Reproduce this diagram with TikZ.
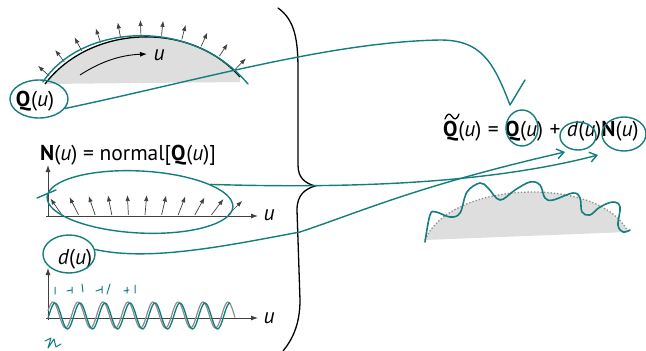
\documentclass[tikz,border=0pt]{standalone}
\usepackage{fontspec}
\setmainfont{PT Sans}
\usetikzlibrary{arrows.meta,decorations.markings,shapes.geometric}
\definecolor{ink}{RGB}{20,125,125}
\definecolor{fillgray}{RGB}{222,222,222}
\newcommand{\fsp}{\hspace{0.3em}}
\tikzset{
  teal line/.style={draw=ink,line width=1.4pt,line cap=round,line join=round},
  tealring/.style={draw=ink,line width=1.4pt,ellipse,inner sep=0pt},
  axis/.style={draw=black!75,line width=0.9pt,-{Latex[length=7pt,width=5pt]}},
  normalarrow/.style={draw=black!75,line width=0.7pt,-{Latex[length=6pt,width=4.5pt]}},
  lbl/.style={font=\fontsize{21.5}{24}\selectfont,inner sep=0pt},
  handtip/.style={-{Straight Barb[length=7pt,width=10pt]}},
}
\begin{document}
\begin{tikzpicture}[x=1pt,y=-1pt]
\useasboundingbox (0,0) rectangle (646,351);
\clip (0,0) rectangle (646,351);

% ---------- top-left: curve Q(u) with normals
\fill[fillgray] (45,84) .. controls (90,25) and (190,20) .. (240,77) -- (240,82) -- cycle;
\draw[line width=1.3pt, postaction={decorate},
  decoration={markings, mark=between positions 0.04 and 0.97 step 0.092 with {\draw[normalarrow] (0pt,2pt) -- (0pt,17pt);}}]
  (45,84) .. controls (90,25) and (190,20) .. (240,77);
\draw[line width=0.9pt,-{Latex[length=7pt,width=5pt]}] (80,75) .. controls (100,62) and (120,55) .. (147,54);
\node[lbl] (utop) at (159,55) {\textit{u}};
\node[lbl] (qu) at (35,101) {\textbf{Q}(\textit{u})};

% ---------- middle-left: N(u)
\node[lbl,anchor=west] (nlabel) at (40,155) {\textbf{N}(\textit{u}) = normal[\textbf{Q}(\textit{u})]};
\draw[axis] (48,217) -- (48,165);
\draw[axis] (46,216) -- (258,216);
\node[lbl] (umid) at (269,215) {\textit{u}};
\foreach \i in {0,...,10}{
  \draw[normalarrow] (62+16.6*\i,215) -- ++({125-8*\i}:20pt);
}

% ---------- bottom-left: d(u)
\node[lbl] (dlabel) at (75,259) {\textit{d}(\textit{u})};
\draw[axis] (48,320) -- (48,268);
\draw[axis] (46,318) -- (258,318);
\node[lbl] (ubot) at (269,318) {\textit{u}};
\draw[black!45,line width=1.2pt,domain=48:235,samples=160,smooth] plot (\x,{315-13*cos(14.4*(\x-53))});

% ---------- brace
\draw[line width=1.3pt,line cap=round] (278,8) .. controls (295,20) and (298,40) .. (298,70) -- (298,165)
  .. controls (298,178) and (305,183) .. (315,186) .. controls (305,189) and (297,195) .. (297,210)
  -- (300,300) .. controls (300,325) and (292,340) .. (283,351);

% ---------- right: formula and result
\node[lbl,anchor=west] (formula) at (443,131) {\textbf{Q}(\textit{u})\fsp=\fsp\textbf{Q}(\textit{u})\fsp+\fsp\textit{d}(\textit{u})\textbf{N}(\textit{u})};
\draw[line width=1.3pt,line cap=round] (445,119) .. controls (447,113) and (450,113) .. (452,116.5) .. controls (454,120) and (457,120) .. (459,114);
\fill[fillgray] (425,240) .. controls (450,180) and (600,175) .. (628,232) -- cycle;
\draw[black!45,dotted,line width=1.3pt] (425,240) .. controls (450,180) and (600,175) .. (628,232);

% ---------- teal annotations
\draw[teal line] (43,82) .. controls (80,25) and (190,15) .. (248,84);
\node[tealring,minimum width=58pt,minimum height=38pt] (qcirc) at (39,99) {};
\node[tealring,minimum width=186pt,minimum height=62pt,rotate=-3] (nell) at (140,202) {};
\draw[teal line] (37,198) -- (56,190);
\node[tealring,minimum width=52pt,minimum height=38pt] (dcirc) at (69,254) {};
\node[tealring,minimum width=32pt,minimum height=36pt] (qcirc2) at (522,128) {};
\node[tealring,minimum width=36pt,minimum height=28pt] (dcirc2) at (578,136) {};
\node[tealring,minimum width=44pt,minimum height=34pt] (ncirc) at (624,134) {};
\coordinate (qtip) at (510,105);
\coordinate (dtip) at (565,152);
\coordinate (ntip) at (598,155);
\coordinate (qbarb) at (525,80);

\draw[teal line] (qcirc.-20) .. controls (200,80) and (330,42) .. (440,40)
  .. controls (480,40) and (493,60) .. (qtip) -- (qbarb);
\draw[teal line,handtip] (nell.17) .. controls (330,188) and (480,186) .. (ntip);
\draw[teal line,handtip] (dcirc.10) .. controls (150,262) and (230,245) .. (300,232)
  .. controls (360,212) and (420,185) .. (dtip);

\draw[teal line,line width=1.3pt,domain=48:230,samples=160,smooth] plot (\x,{316-13*cos(14.4*(\x-55))});
\draw[teal line,line width=1.6pt] plot[smooth,tension=0.6] coordinates {
  (425,242) (430,215) (436,212) (450,217) (460,213) (467,192) (480,183) (488,188) (500,200)
  (515,190) (530,182) (540,185) (545,198) (553,200) (573,193) (580,198) (582,212) (590,215)
  (600,207) (613,202) (620,207) (618,225) (623,232) (630,230)};

% scribbles
\draw[teal line,line width=1pt] (55,287) -- (55,294) (67,291) -- (72,290) (72,287) -- (72,293)
  (82,284) -- (83,292) (96,291) -- (102,289) (102,286) -- (102,293) (110,284) -- (107,294)
  (124,291) -- (129,290) (127,287) -- (127,293) (135,285) -- (135,293);
\draw[teal line,line width=1pt] (45,341) -- (51,338) -- (48,348) -- (54,339) -- (56,347) -- (61,344);
\end{tikzpicture}
\end{document}
